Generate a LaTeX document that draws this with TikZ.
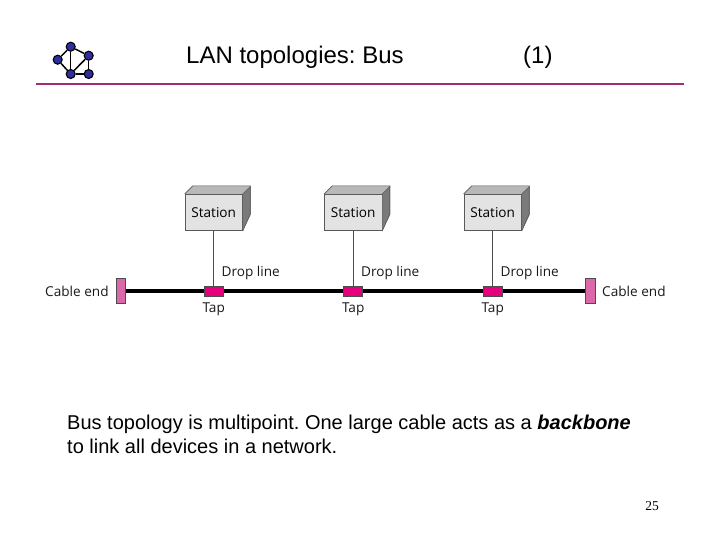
\documentclass[tikz,border=0pt]{standalone}
\usepackage{fontspec}
\setmainfont{Liberation Sans}
\newfontfamily\labelfont{Open Sans}
\newfontfamily\numfont{Liberation Serif}
\frenchspacing
\definecolor{rulecol}{HTML}{A32C78}
\definecolor{dotcol}{HTML}{2E2E9E}
\definecolor{tapcol}{HTML}{E6007E}
\definecolor{endcol}{HTML}{DB68A8}
\tikzset{
	dot/.style={circle,draw=black,line width=1.1pt,fill=dotcol,minimum size=9pt,inner sep=0pt},
	link/.style={line width=1.5pt,black},
	station/.style={rectangle,draw=black!65,line width=0.6pt,fill=black!11,minimum width=57.5pt,minimum height=36.5pt,inner sep=0pt,font=\labelfont\fontsize{13.6}{13.6}\selectfont},
	tap/.style={rectangle,draw=black!70,line width=0.5pt,fill=tapcol,minimum width=19pt,minimum height=9.5pt,inner sep=0pt},
	cableend/.style={rectangle,draw=black!70,line width=0.7pt,fill=endcol,minimum width=9.5pt,minimum height=25pt,inner sep=0pt},
	lab/.style={inner sep=0pt,font=\labelfont\fontsize{13.6}{13.6}\selectfont,text=black!90},
	title/.style={inner sep=0pt,anchor=base west,font=\fontsize{24}{24}\selectfont},
	body/.style={inner sep=0pt,anchor=base west,font=\fontsize{20}{20}\selectfont}
}
\begin{document}
\begin{tikzpicture}[x=1pt,y=-1pt]
	\useasboundingbox (0,0) rectangle (720,540);

	% logo
	\node[dot] (d1) at (70.7,46.7) {};
	\node[dot] (d2) at (88.7,55.7) {};
	\node[dot] (d3) at (57.7,59.7) {};
	\node[dot] (d4) at (70.7,74) {};
	\node[dot] (d5) at (88.7,74) {};
	\draw[link] (d1) -- (d2);
	\draw[link] (d1) -- (d3);
	\draw[link] (d1) -- (d4);
	\draw[link] (d3) -- (d4);
	\draw[link] (d2) -- (d4);
	\draw[link] (d2) -- (d5);
	\draw[link] (d4) -- (d5);

	% title
	\node[title] (t1) at (186,64) {LAN topologies: Bus};
	\node[title] (t2) at (523,64) {(1)};
	\coordinate (r1) at (36,84);
	\coordinate (r2) at (684,84);
	\draw[rulecol,line width=2pt] (r1) -- (r2);

	% bus
	\node[cableend] (e1) at (120.7,291) {};
	\node[cableend] (e2) at (590.5,291) {};
	\draw[line width=4pt,black] (e1) -- (e2);
	\node[lab,anchor=base west] (c1) at (45,296) {Cable end};
	\node[lab,anchor=base west] (c2) at (602,296) {Cable end};

	\foreach \i/\x in {1/213.7,2/353.2,3/492.7}{
		\node[station] (s\i) at (\x,212.5) {Station};
		\fill[black!28] (s\i.north west) -- ++(8,-8) -- ++(57.5,0) -- (s\i.north east) -- cycle;
		\fill[black!52] (s\i.north east) -- ++(8,-8) -- ++(0,28.5) -- (s\i.south east) -- cycle;
		\draw[black!65,line width=0.6pt,line join=round] (s\i.north west) -- ++(8,-8) -- ++(57.5,0) -- ++(0,36.5-8) -- (s\i.south east);
		\draw[black!65,line width=0.6pt] (s\i.north east) -- ++(8,-8);
		\node[tap] (p\i) at (\x,291) {};
		\draw[black!70,line width=0.7pt] (s\i) -- (p\i);
		\node[lab,anchor=base west] (l\i) at (\x+7.8,276) {Drop line};
		\node[lab,anchor=base] (q\i) at (\x,312) {Tap};
	}

	% text
	\node[body] (b1) at (67,429) {Bus topology is multipoint. One large cable acts as a \textbf{\textit{backbone}}};
	\node[body] (b2) at (67,453) {to link all devices in a network.};
	\node[inner sep=0pt,anchor=base east,font=\numfont\fontsize{13.5}{13.5}\selectfont] (n) at (659,510) {25};
\end{tikzpicture}
\end{document}
